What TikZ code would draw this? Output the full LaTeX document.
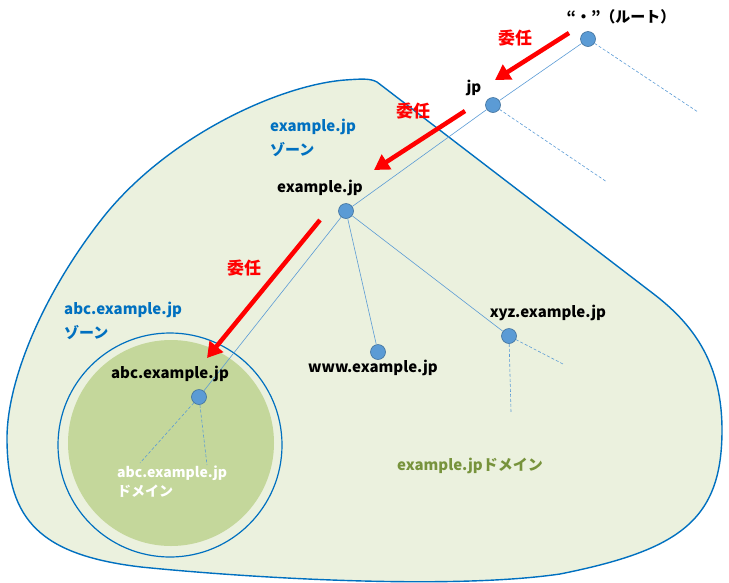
\documentclass[tikz,border=0pt]{standalone}
\usepackage{fontspec}
\setmainfont{Noto Sans CJK JP}
\usepackage{tikz}
\usetikzlibrary{arrows.meta}
\definecolor{zoneblue}{HTML}{0070C0}
\definecolor{nodeblue}{HTML}{5B9BD5}
\definecolor{nodeedge}{HTML}{41719C}
\definecolor{domfill}{HTML}{EBF1DE}
\definecolor{subfill}{HTML}{C4D79B}
\definecolor{domgreen}{HTML}{77933C}
\tikzstyle{dnsnode} = [circle, minimum size=15pt, inner sep=0pt, fill=nodeblue, draw=nodeedge, line width=0.6pt]
\tikzstyle{tree} = [nodeblue, line width=0.6pt]
\tikzstyle{treedash} = [nodeblue, line width=0.6pt, dash pattern=on 3pt off 2pt]
\tikzstyle{dnsname} = [font=\bfseries\fontsize{15}{17}\selectfont, inner sep=0pt]
\tikzstyle{zone} = [font=\bfseries\fontsize{15}{24}\selectfont, text=zoneblue, align=left, anchor=north west, inner sep=0pt]
\tikzstyle{delegatelabel} = [font=\bfseries\fontsize{17}{19}\selectfont, text=red, inner sep=0pt]
\tikzstyle{delegate} = [red, line width=4.5pt, -{Triangle[length=15pt,width=17pt]}]

\begin{document}
\begin{tikzpicture}[x=1pt, y=-1pt]
\useasboundingbox (0,0) rectangle (729,582);
% AREAS
\fill[domfill, draw=zoneblue, line width=1.4pt] (377,82) -- (655,295)
  .. controls (695,326) and (722,365) .. (722,430)
  .. controls (722,520) and (680,550) .. (560,574)
  .. controls (450,590) and (250,578) .. (141,567)
  .. controls (40,555) and (8,520) .. (7,441)
  .. controls (6,380) and (45,290) .. (105,215)
  .. controls (170,135) and (280,85) .. (345,80)
  .. controls (360,79) and (370,78) .. (377,82) -- cycle;
\draw[zoneblue, line width=1.2pt, fill=domfill] (170,445) circle (112);
\fill[subfill] (171,443) circle (103);

% NODES
\node (root) [dnsnode] at (588,39) {};
\node (jp) [dnsnode] at (493,105) {};
\node (ex) [dnsnode] at (346,211) {};
\node (abc) [dnsnode] at (199,397) {};
\node (www) [dnsnode] at (378,352) {};
\node (xyz) [dnsnode] at (509,336) {};
\coordinate (root-more) at (698,112);
\coordinate (jp-more) at (607,182);
\coordinate (xyz-more1) at (563,364);
\coordinate (xyz-more2) at (511,412);
\coordinate (abc-more1) at (140,463);
\coordinate (abc-more2) at (207,465);

% LINES
\draw [tree] (root) -- (jp);
\draw [tree] (jp) -- (ex);
\draw [tree] (ex) -- (abc);
\draw [tree] (ex) -- (www);
\draw [tree] (ex) -- (xyz);
\draw [treedash] (root) -- (root-more);
\draw [treedash] (jp) -- (jp-more);
\draw [treedash] (xyz) -- (xyz-more1);
\draw [treedash] (xyz) -- (xyz-more2);
\draw [treedash] (abc) -- (abc-more1);
\draw [treedash] (abc) -- (abc-more2);

% LABELS
\node (root-label) [dnsname] at (621,17) {“・”（ルート）};
\node (jp-label) [dnsname] at (474,88) {jp};
\node (ex-label) [dnsname] at (320,188) {example.jp};
\node (abc-label) [dnsname] at (170,374) {abc.example.jp};
\node (www-label) [dnsname] at (373,368) {www.example.jp};
\node (xyz-label) [dnsname] at (548,313) {xyz.example.jp};
\node (ex-zone) [zone] at (270,119) {example.jp\\ゾーン};
\node (abc-zone) [zone] at (64,302) {abc.example.jp\\ゾーン};
\node (ex-domain) [dnsname, text=domgreen] at (470,466) {example.jpドメイン};
\node (abc-domain) [dnsname, text=white, align=left, anchor=north west, font=\bfseries\fontsize{14}{19}\selectfont] at (117,466) {abc.example.jp\\ドメイン};

% ARROWS
\coordinate (d1-from) at (569,33);
\coordinate (d1-to) at (495,80);
\coordinate (d2-from) at (465,111);
\coordinate (d2-to) at (374,170);
\coordinate (d3-from) at (320,220);
\coordinate (d3-to) at (207,358);
\draw [delegate] (d1-from) -- (d1-to);
\draw [delegate] (d2-from) -- (d2-to);
\draw [delegate] (d3-from) -- (d3-to);
\node (d1-label) [delegatelabel] at (515,38) {委任};
\node (d2-label) [delegatelabel] at (413,111) {委任};
\node (d3-label) [delegatelabel] at (244,268) {委任};
\end{tikzpicture}
\end{document}
